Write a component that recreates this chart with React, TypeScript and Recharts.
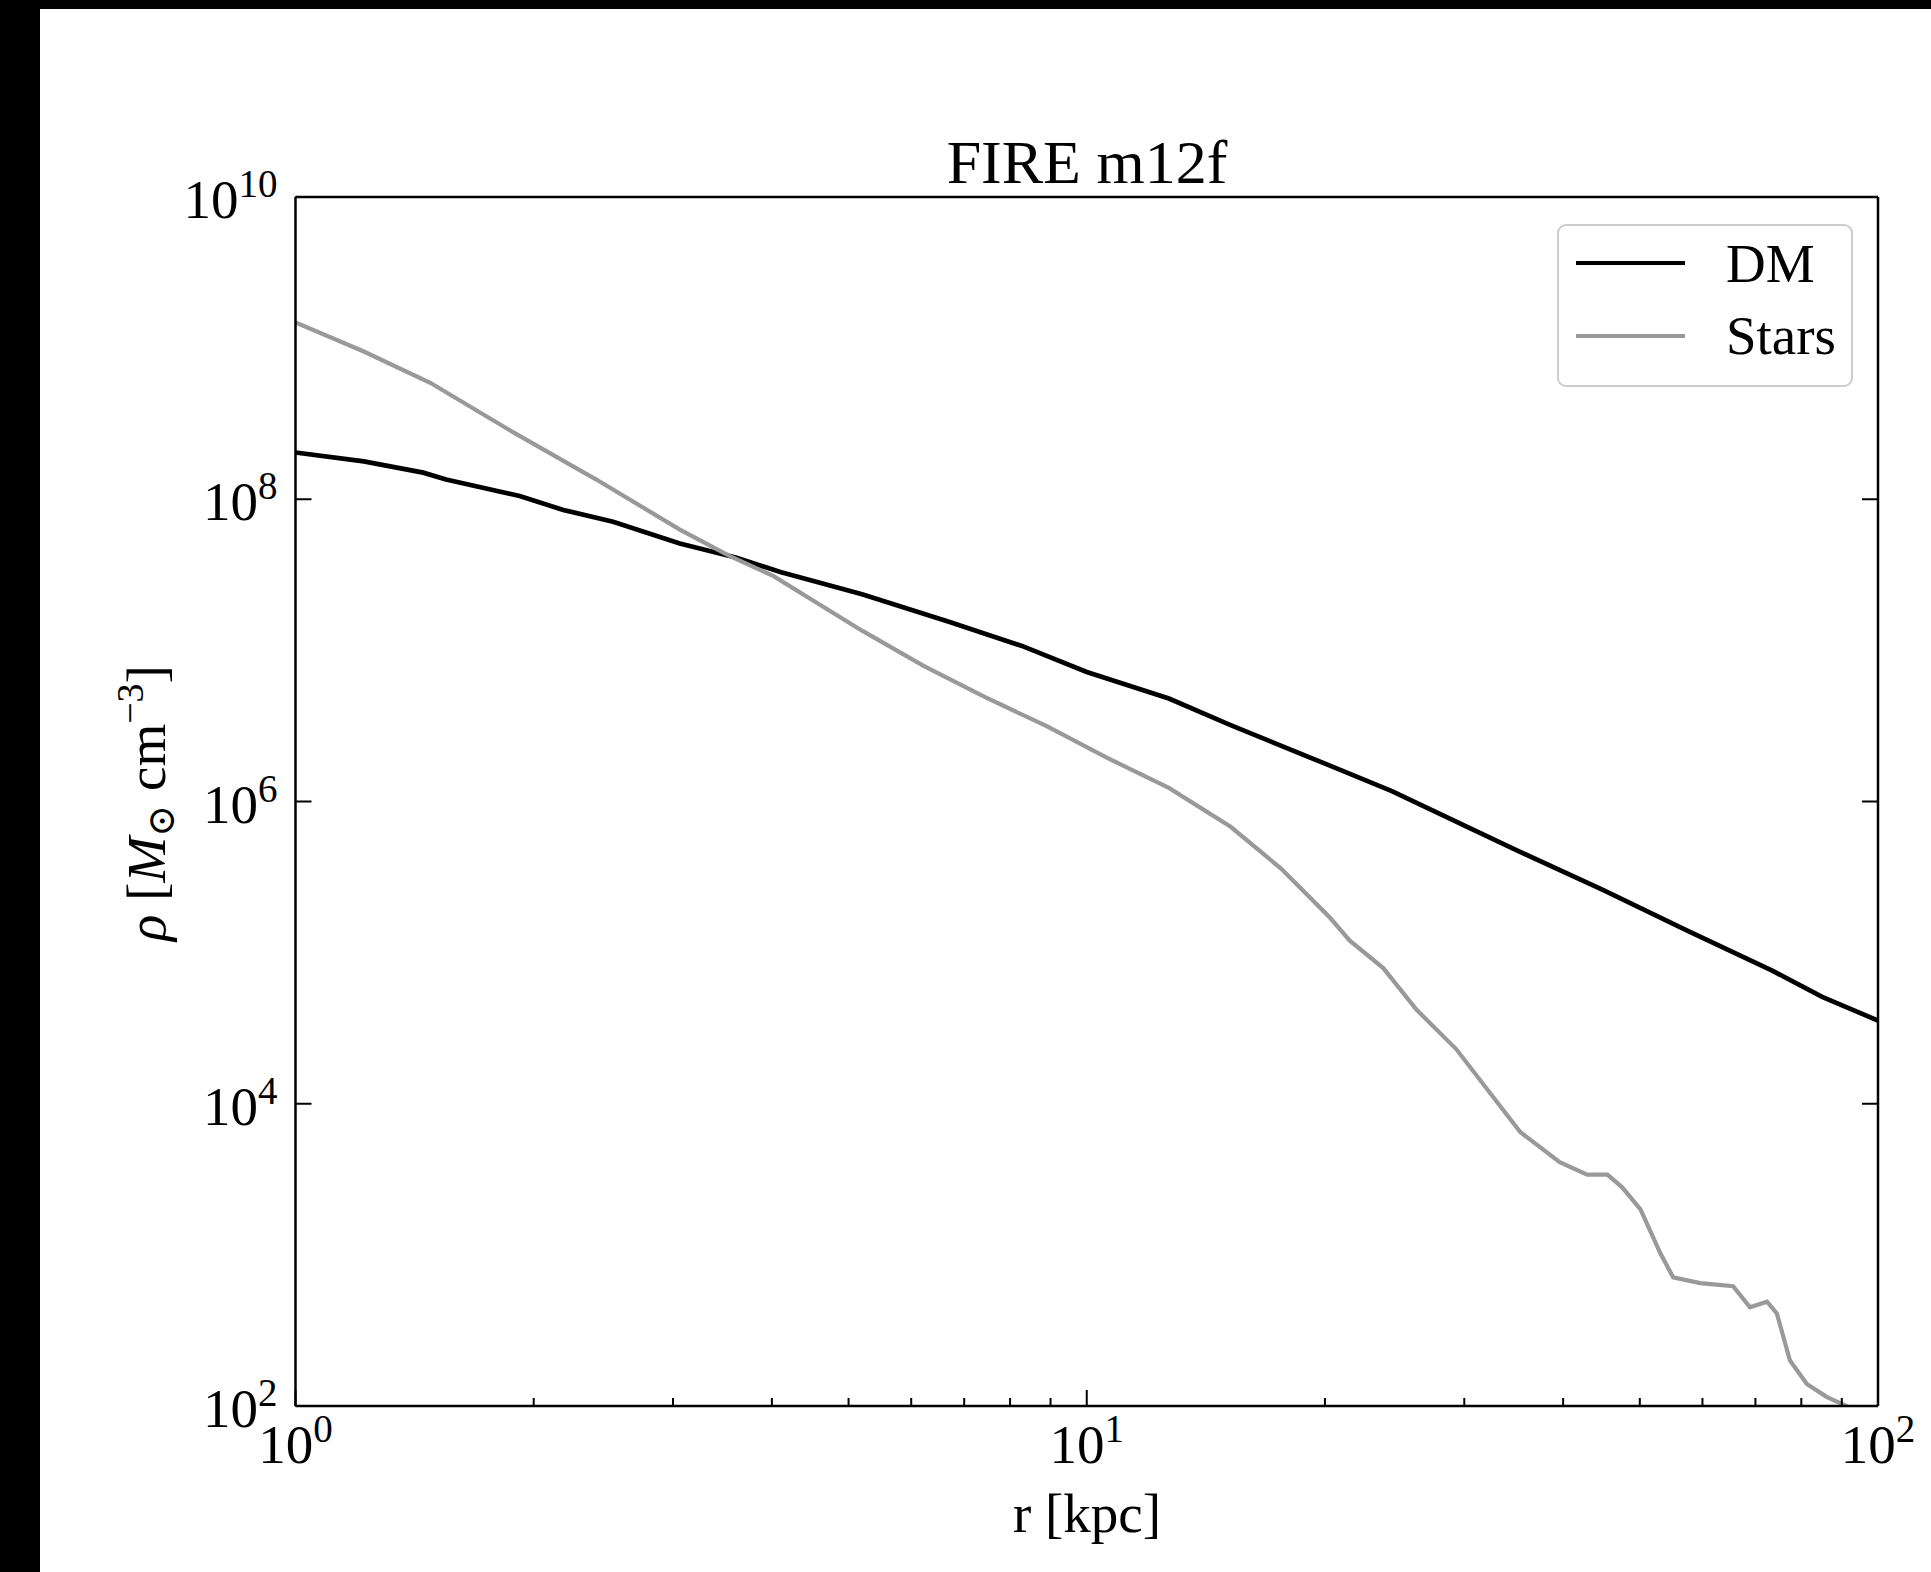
import React from 'react'
import { LineChart, Line, XAxis, YAxis, Legend } from 'recharts'

const SERIF = "'Liberation Serif', 'DejaVu Serif', serif"

// radius [kpc] and density [Msun cm^-3]
const R_DM = [1, 1.22, 1.45, 1.55, 1.92, 2.18, 2.52, 3.06, 3.61, 4.1, 5.2, 6.68, 8.28, 10, 12.7, 15.2, 19.9, 24.3, 31.2, 34.8, 44.9, 57.4, 73.5, 85, 100]
const RHO_DM = [2.04e8, 1.78e8, 1.5e8, 1.35e8, 1.05e8, 8.5e7, 7.1e7, 5.1e7, 4.1e7, 3.3e7, 2.35e7, 1.55e7, 1.07e7, 7.2e6, 4.8e6, 3.2e6, 1.8e6, 1.17e6, 6.3e5, 4.8e5, 2.6e5, 1.4e5, 7.6e4, 5.1e4, 3.55e4]

const R_STARS = [1, 1.22, 1.48, 1.89, 2.4, 3.06, 3.54, 4.02, 5.2, 6.22, 7.44, 8.9, 10.6, 12.7, 15.2, 17.6, 20.3, 21.5, 23.7, 26.1, 29.3, 35.3, 39.6, 42.9, 45.5, 47.5, 50.1, 53.1, 55.1, 59.6, 65.6, 68.9, 72.4, 74.5, 77.4, 81.3, 86.1, 92, 98]
const RHO_STARS = [1.48e9, 9.5e8, 5.9e8, 2.75e8, 1.35e8, 6.3e7, 4.2e7, 3.1e7, 1.35e7, 7.9e6, 4.9e6, 3.15e6, 1.95e6, 1.23e6, 6.8e5, 3.6e5, 1.7e5, 1.2e5, 7.9e4, 4.2e4, 2.3e4, 6.5e3, 4.1e3, 3.4e3, 3.4e3, 2.8e3, 2.0e3, 1.02e3, 710, 650, 620, 450, 490, 410, 200, 140, 115, 98, 85]

const X_TICKS = [1, 2, 3, 4, 5, 6, 7, 8, 9, 10, 20, 30, 40, 50, 60, 70, 80, 90, 100]
const Y_TICKS = [1e2, 1e4, 1e6, 1e8, 1e10]

const dmData = R_DM.map((r, i) => ({ r, rho: RHO_DM[i] }))
const starData = R_STARS.map((r, i) => ({ r, rho: RHO_STARS[i] }))

const isDecade = (v: number) => Math.abs(Math.log10(v) - Math.round(Math.log10(v))) < 1e-9
const exp = (v: number) => Math.round(Math.log10(v))

function Pow({ e, ...rest }: any) {
  return (
    <text fontFamily={SERIF} fontSize={55} fill="#000" {...rest}>
      10<tspan fontSize={39} dy={-21}>{e}</tspan>
    </text>
  )
}

function XTick({ x, y, payload, side }: any) {
  const v = payload.value
  const major = isDecade(v)
  const len = major ? 16 : 8
  const dir = side === 'top' ? 1 : -1
  return (
    <g>
      <line x1={x} x2={x} y1={y} y2={y + dir * len} stroke="#000" strokeWidth={2} />
      {major && side !== 'top' && <Pow e={exp(v)} x={x} y={y + 57} textAnchor="middle" />}
    </g>
  )
}

function YTick({ x, y, payload, side }: any) {
  const v = payload.value
  const dir = side === 'right' ? -1 : 1
  return (
    <g>
      <line x1={x} x2={x + dir * 16} y1={y} y2={y} stroke="#000" strokeWidth={2} />
      {side !== 'right' && <Pow e={exp(v)} x={x - 18} y={y + 21} textAnchor="end" />}
    </g>
  )
}

function LegendBox({ payload }: any) {
  return (
    <svg width={296} height={163}>
      <rect x={1} y={1} width={294} height={161} rx={8} fill="rgba(255,255,255,0.8)" stroke="#cccccc" strokeWidth={2} />
      {(payload || []).map((p: any, i: number) => (
        <g key={p.value}>
          <line x1={19} x2={128} y1={39 + i * 73} y2={39 + i * 73} stroke={p.color} strokeWidth={4} />
          <text x={169} y={58 + i * 72} fontFamily={SERIF} fontSize={55} fill="#000">{p.value}</text>
        </g>
      ))}
    </svg>
  )
}

const axisLine = { stroke: '#000', strokeWidth: 2.5 }
const common = { type: 'number' as const, scale: 'log' as const, allowDataOverflow: true, interval: 0 as const, tickSize: 0, tickMargin: 0, tickLine: false, axisLine }

export default function App() {
  return (
    <div style={{ position: 'absolute', left: 0, top: 0, width: 1931, height: 1572, background: '#000', overflow: 'hidden' }}>
      <div style={{ position: 'absolute', left: 40, top: 9, right: 0, bottom: 0, background: '#fff' }} />
      <div style={{ position: 'absolute', left: 0, top: 0 }}>
        <LineChart width={1931} height={1572} margin={{ top: 196, right: 52, bottom: 165, left: 294.5 }}>
          <XAxis xAxisId="b" dataKey="r" {...common} domain={[1, 100]} ticks={X_TICKS} height={1}
            tick={<XTick side="bottom" />} />
          <XAxis xAxisId="t" orientation="top" {...common} domain={[1, 100]} ticks={X_TICKS} height={1}
            tick={<XTick side="top" />} />
          <YAxis yAxisId="l" dataKey="rho" {...common} domain={[1e2, 1e10]} ticks={Y_TICKS} width={1}
            tick={<YTick side="left" />} />
          <YAxis yAxisId="r" orientation="right" {...common} domain={[1e2, 1e10]} ticks={Y_TICKS} width={1}
            tick={<YTick side="right" />} />
          <Legend layout="vertical" align="center" verticalAlign="middle" content={<LegendBox />}
            wrapperStyle={{ left: 1557, top: 224, width: 296, height: 163 }} />
          <Line xAxisId="b" yAxisId="l" data={dmData} dataKey="rho" name="DM" type="linear"
            stroke="#000" strokeWidth={4.7} dot={false} isAnimationActive={false} />
          <Line xAxisId="b" yAxisId="l" data={starData} dataKey="rho" name="Stars" type="linear"
            stroke="#999999" strokeWidth={4.2} dot={false} isAnimationActive={false} />
        </LineChart>
      </div>
      <svg width={1931} height={1572} style={{ position: 'absolute', left: 0, top: 0, pointerEvents: 'none' }}>
        <text x={1087} y={183} textAnchor="middle" fontFamily={SERIF} fontSize={62} fill="#000">FIRE m12f</text>
        <text x={1087} y={1532} textAnchor="middle" fontFamily={SERIF} fontSize={55} fill="#000">r [kpc]</text>
        <text transform="translate(165 803) rotate(-90)" textAnchor="middle" fontFamily={SERIF} fontSize={55} fill="#000">
          <tspan fontStyle="italic">ρ</tspan> [<tspan fontStyle="italic">M</tspan>
          <tspan fontSize={38} dy={9}>⊙</tspan>
          <tspan dy={-9}> cm</tspan>
          <tspan fontSize={38} dy={-22}>−3</tspan>
          <tspan dy={22}>]</tspan>
        </text>
      </svg>
    </div>
  )
}
